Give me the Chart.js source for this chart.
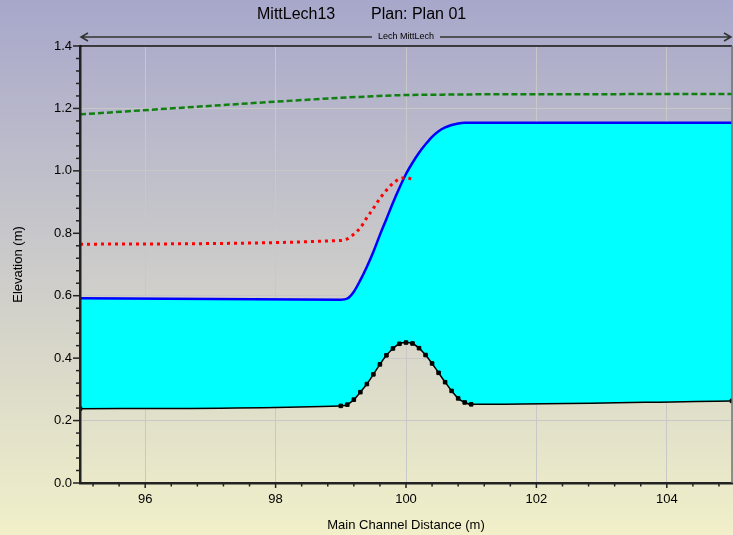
<!DOCTYPE html>
<html>
<head>
<meta charset="utf-8">
<script src="https://cdn.jsdelivr.net/npm/chart.js@4/dist/chart.umd.min.js"></script>
<style>
  html, body { margin: 0; padding: 0; background: #d0d0cc; }
  #wrap { width: 733px; height: 535px; }
</style>
</head>
<body>
<div id="wrap"><canvas id="profile" width="733" height="535"></canvas></div>
<script>
// Cross-section stations (m) and computed elevations (m)
const stations = [95, 99.0, 99.1, 99.2, 99.3, 99.4, 99.5, 99.6, 99.7, 99.8, 99.9, 100.0,
                  100.1, 100.2, 100.3, 100.4, 100.5, 100.6, 100.7, 100.8, 100.9, 101.0, 105];
const groundElev = [0.238, 0.247, 0.251, 0.267, 0.291, 0.317, 0.348, 0.380, 0.409, 0.431, 0.446, 0.450,
                    0.447, 0.432, 0.410, 0.383, 0.353, 0.323, 0.295, 0.271, 0.258, 0.252, 0.263];
const wsElev = [0.592, 0.587, 0.591, 0.613, 0.650, 0.693, 0.741, 0.795, 0.846, 0.898, 0.946, 0.990,
                1.026, 1.058, 1.085, 1.109, 1.127, 1.139, 1.147, 1.152, 1.154, 1.154, 1.154];
const critStations = [95, 99.0, 99.1, 99.2, 99.3, 99.4, 99.5, 99.6, 99.7, 99.8, 99.9, 100.0, 100.1];
const critElev = [0.765, 0.777, 0.782, 0.797, 0.818, 0.850, 0.880, 0.912, 0.938, 0.960, 0.974, 0.978, 0.973];
const egStations = [95, 99.0, 99.5, 100.0, 100.5, 101.0, 105];
const egElev = [1.181, 1.234, 1.239, 1.243, 1.244, 1.245, 1.246];

const xTickLabels = [96, 98, 100, 102, 104];
const yTickLabels = [0.0, 0.2, 0.4, 0.6, 0.8, 1.0, 1.2, 1.4];

const chartTitle = ['MittLech13', 'Plan: Plan 01'];
const reachName = 'Lech MittLech';
const xTitle = 'Main Channel Distance (m)';
const yTitle = 'Elevation (m)';

const FONT = 'Liberation Sans, Arial, Helvetica, sans-serif';
const pts = (xs, ys) => xs.map((x, i) => ({ x: x, y: ys[i] }));
const near = (list, v) => list.some(l => Math.abs(l - v) < 1e-6);

const decor = {
  id: 'decor',
  beforeDraw(chart) {
    const { ctx, width, height } = chart;
    const g = ctx.createLinearGradient(0, 0, 0, height);
    g.addColorStop(0, '#a7a7cb');
    g.addColorStop(1, '#f1f0c9');
    ctx.save();
    ctx.fillStyle = g;
    ctx.fillRect(0, 0, width, height);
    ctx.restore();
  },
  afterDraw(chart) {
    const { ctx, chartArea: a } = chart;
    const xs = chart.scales.x, ys = chart.scales.y;
    ctx.save();
    // frame top and right
    ctx.strokeStyle = '#111';
    ctx.lineWidth = 1.5;
    ctx.beginPath();
    ctx.moveTo(a.left, a.top); ctx.lineTo(a.right, a.top);
    ctx.stroke();
    ctx.strokeStyle = '#707070';
    ctx.beginPath();
    ctx.moveTo(a.right, a.top); ctx.lineTo(a.right, a.bottom);
    ctx.stroke();

    // tick marks (major longer than minor)
    ctx.strokeStyle = '#222';
    ctx.lineWidth = 1.5;
    xs.ticks.forEach(t => {
      const p = xs.getPixelForValue(t.value);
      const len = t.label !== '' ? 5 : 3.5;
      ctx.beginPath(); ctx.moveTo(p, a.bottom); ctx.lineTo(p, a.bottom + len); ctx.stroke();
    });
    ys.ticks.forEach(t => {
      const p = ys.getPixelForValue(t.value);
      const len = t.label !== '' ? 7 : 4;
      ctx.beginPath(); ctx.moveTo(a.left - len, p); ctx.lineTo(a.left, p); ctx.stroke();
    });

    // plot title
    ctx.fillStyle = '#000';
    ctx.font = '16px ' + FONT;
    ctx.textBaseline = 'middle';
    ctx.textAlign = 'left';
    ctx.fillText(chartTitle[0], 257, 15);
    ctx.fillText(chartTitle[1], 371, 15);

    // reach extent arrow
    const yr = 37;
    ctx.font = '9px ' + FONT;
    ctx.textAlign = 'center';
    const cx = (a.left + a.right) / 2;
    const tw = ctx.measureText(reachName).width;
    ctx.fillText(reachName, cx, yr);
    ctx.strokeStyle = '#333';
    ctx.lineWidth = 1.5;
    ctx.beginPath();
    ctx.moveTo(a.left + 1, yr); ctx.lineTo(cx - tw / 2 - 6, yr);
    ctx.moveTo(cx + tw / 2 + 6, yr); ctx.lineTo(a.right - 1, yr);
    ctx.moveTo(a.left + 8, yr - 4); ctx.lineTo(a.left + 1, yr); ctx.lineTo(a.left + 8, yr + 4);
    ctx.moveTo(a.right - 8, yr - 4); ctx.lineTo(a.right - 1, yr); ctx.lineTo(a.right - 8, yr + 4);
    ctx.stroke();
    ctx.restore();
  }
};

new Chart(document.getElementById('profile'), {
  type: 'line',
  data: {
    datasets: [
      {
        label: 'Crit PF 1',
        data: pts(critStations, critElev),
        borderColor: '#ff0000',
        borderWidth: 3,
        borderDash: [3, 4],
        pointRadius: 0,
        fill: false,
        cubicInterpolationMode: 'monotone'
      },
      {
        label: 'EG PF 1',
        data: pts(egStations, egElev),
        borderColor: '#108010',
        borderWidth: 2.5,
        borderDash: [6, 3],
        pointRadius: 0,
        fill: false,
        cubicInterpolationMode: 'monotone'
      },
      {
        label: 'WS PF 1',
        data: pts(stations, wsElev),
        borderColor: '#0000ff',
        borderWidth: 2.5,
        backgroundColor: '#00ffff',
        pointRadius: 0,
        fill: { target: 3 },
        cubicInterpolationMode: 'monotone'
      },
      {
        label: 'Ground',
        data: pts(stations, groundElev),
        borderColor: '#000000',
        borderWidth: 1.5,
        pointStyle: 'rect',
        pointRadius: 2.5,
        pointBorderWidth: 1,
        pointBackgroundColor: '#000000',
        pointBorderColor: '#000000',
        fill: false,
        cubicInterpolationMode: 'monotone'
      }
    ]
  },
  options: {
    responsive: false,
    animation: false,
    layout: { autoPadding: false, padding: { top: 46, right: 1, left: 0, bottom: 0 } },
    plugins: {
      legend: { display: false },
      tooltip: { enabled: false },
      filler: { drawTime: 'beforeDatasetsDraw' }
    },
    scales: {
      x: {
        type: 'linear',
        min: 95,
        max: 105,
        afterBuildTicks(scale) {
          const t = [];
          for (let k = 0; k <= 24; k++) t.push({ value: Math.round((95.2 + 0.4 * k) * 10) / 10 });
          scale.ticks = t;
        },
        afterFit(scale) {
          scale.height = 52;
          scale.paddingLeft = 0;
          scale.paddingRight = 0;
        },
        ticks: {
          autoSkip: false,
          maxRotation: 0,
          padding: 9,
          color: '#000',
          font: { family: FONT, size: 13 },
          callback: v => near(xTickLabels, v) ? String(Math.round(v)) : ''
        },
        grid: {
          drawTicks: false,
          color: c => (c.tick && near(xTickLabels, c.tick.value)) ? '#c8c8c8' : 'rgba(0,0,0,0)',
          lineWidth: 1
        },
        border: { display: true, color: '#222', width: 2.5, z: 1 },
        title: {
          display: true,
          text: xTitle,
          color: '#000',
          font: { family: FONT, size: 13 },
          padding: { top: 0, bottom: 2 }
        }
      },
      y: {
        type: 'linear',
        min: 0,
        max: 1.4,
        afterBuildTicks(scale) {
          const t = [];
          for (let k = 0; k <= 35; k++) t.push({ value: Math.round(0.04 * k * 100) / 100 });
          scale.ticks = t;
        },
        afterFit(scale) {
          scale.width = 80;
          scale.paddingTop = 0;
          scale.paddingBottom = 0;
        },
        ticks: {
          autoSkip: false,
          padding: 8,
          color: '#000',
          font: { family: FONT, size: 13 },
          callback: v => near(yTickLabels, v) ? v.toFixed(1) : ''
        },
        grid: {
          drawTicks: false,
          color: c => (c.tick && near(yTickLabels, c.tick.value)) ? '#c8c8c8' : 'rgba(0,0,0,0)',
          lineWidth: 1
        },
        border: { display: true, color: '#222', width: 2.5, z: 1 },
        title: {
          display: true,
          text: yTitle,
          color: '#000',
          font: { family: FONT, size: 13 },
          padding: { top: 11, bottom: 0 }
        }
      }
    }
  },
  plugins: [decor]
});
</script>
</body>
</html>
